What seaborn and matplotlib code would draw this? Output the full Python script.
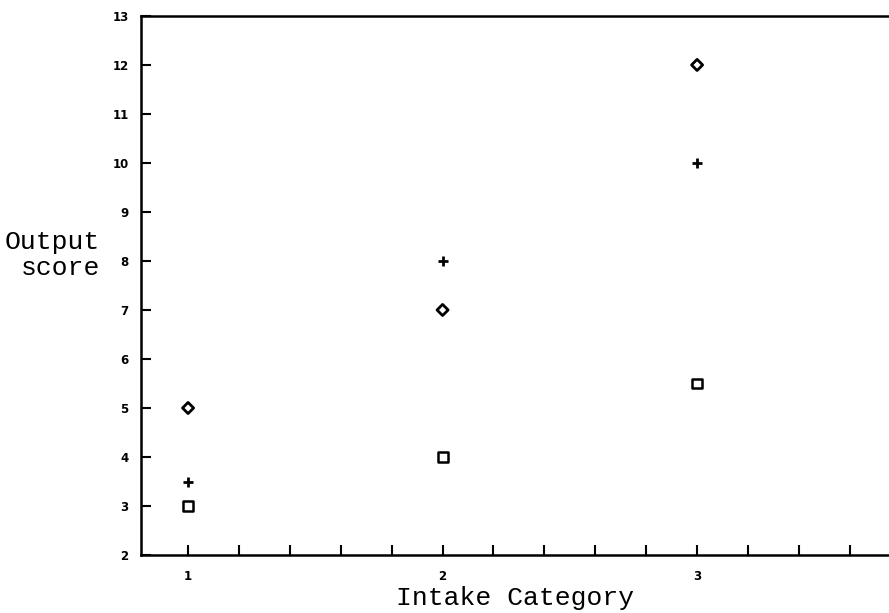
import matplotlib
matplotlib.use("Agg")
import matplotlib.pyplot as plt
import seaborn as sns
import pandas as pd
import numpy as np

categories = [1, 2, 3]
diamond_vals = [5, 7, 12]
plus_vals = [3.5, 8, 10]
square_vals = [3, 4, 5.5]
y_ticks = list(range(2, 14))
x_tick_labels = ["1", "2", "3"]

sns.set_theme(style="white")
plt.rcParams['font.family'] = ['DejaVu Sans']
plt.rcParams['text.color'] = 'black'
plt.rcParams['xtick.color'] = 'black'
plt.rcParams['ytick.color'] = 'black'
plt.rcParams['axes.labelcolor'] = 'black'

fig = plt.figure(figsize=(8.89, 6.13), dpi=100)
ax = fig.add_axes([0.1586, 0.0946, 0.8414, 0.8794])

df_d = pd.DataFrame({"x": categories, "y": diamond_vals})
df_p = pd.DataFrame({"x": categories, "y": plus_vals})
df_s = pd.DataFrame({"x": categories, "y": square_vals})

sns.scatterplot(data=df_d, x="x", y="y", marker="D", s=32, facecolor="none",
                edgecolor="black", linewidth=2, ax=ax, zorder=3)
sns.scatterplot(data=df_p, x="x", y="y", marker="+", s=60, color="black",
                linewidth=2, ax=ax, zorder=3)
sns.scatterplot(data=df_s, x="x", y="y", marker="s", s=50, facecolor="none",
                edgecolor="black", linewidth=1.8, ax=ax, zorder=3)

ax.set_xlim(0.815, 3.754)
ax.set_ylim(2, 13)
ax.set_yticks(y_ticks)
ax.set_yticklabels([str(t) for t in y_ticks], fontsize=8.5, fontweight="bold")
ax.set_xticks([1, 2, 3])
ax.set_xticklabels(x_tick_labels, fontsize=8.5, fontweight="bold")
ax.set_xticks(np.arange(1.2, 3.7, 0.2), minor=True)
ax.tick_params(axis="both", which="both", direction="in", length=7, width=1.5,
               color="black", bottom=True, left=True)
ax.tick_params(axis="x", which="major", pad=11)
ax.tick_params(axis="y", which="major", pad=9)

for side in ["left", "bottom", "top"]:
    ax.spines[side].set_color("black")
    ax.spines[side].set_linewidth(1.8)
ax.spines["right"].set_visible(False)

ax.set_xlabel("Intake Category", family="Liberation Mono", fontsize=19,
              labelpad=2, color="black")
ax.set_ylabel("")
fig.text(100 / 889, 1 - 255 / 613, "Output\nscore", family="Liberation Mono",
         fontsize=19, ha="right", va="center", multialignment="right",
         linespacing=1.1, color="black")

fig.savefig("out.png", dpi=100, facecolor="white")
